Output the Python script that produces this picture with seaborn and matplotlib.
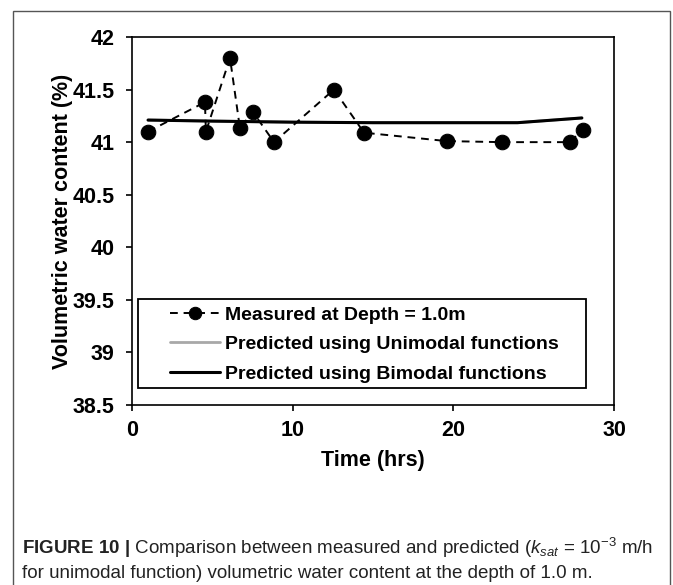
import matplotlib
matplotlib.use("Agg")
import matplotlib.pyplot as plt
from matplotlib.patches import Rectangle
import seaborn as sns
import pandas as pd

sns.set_theme(style="white")
plt.rcParams['font.family'] = ['Liberation Sans', 'DejaVu Sans']
plt.rcParams['mathtext.fontset'] = 'custom'
plt.rcParams['mathtext.rm'] = 'Liberation Sans'
plt.rcParams['mathtext.it'] = 'Liberation Sans:italic'
plt.rcParams['mathtext.bf'] = 'Liberation Sans:bold'

# ---- data ----
measured_time = [1.0, 4.54, 4.6, 6.1, 6.72, 7.51, 8.84, 12.57, 14.44, 19.58, 23.0, 27.26, 28.04]
measured_vwc = [41.10, 41.38, 41.10, 41.80, 41.13, 41.29, 41.00, 41.50, 41.09, 41.01, 41.00, 41.00, 41.12]
pred_time = [1.0, 5.0, 10.0, 15.0, 20.0, 24.0, 28.0]
unimodal_vwc = [41.21, 41.20, 41.19, 41.185, 41.185, 41.185, 41.23]
bimodal_vwc = [41.21, 41.20, 41.19, 41.185, 41.185, 41.185, 41.23]
x_ticks = [0, 10, 20, 30]
y_ticks = [38.5, 39, 39.5, 40, 40.5, 41, 41.5, 42]
y_tick_labels = ["38.5", "39", "39.5", "40", "40.5", "41", "41.5", "42"]
labels = ["Measured at Depth = 1.0m",
          "Predicted using Unimodal functions",
          "Predicted using Bimodal functions"]

fig = plt.figure(figsize=(6.73, 5.85), dpi=100)
ax = fig.add_axes([132/673, 1-405/585, 482/673, 368/585])

df_m = pd.DataFrame({"t": measured_time, "v": measured_vwc})
df_u = pd.DataFrame({"t": pred_time, "v": unimodal_vwc})
df_b = pd.DataFrame({"t": pred_time, "v": bimodal_vwc})

sns.lineplot(data=df_u, x="t", y="v", ax=ax, color="#a8a8a8", linewidth=2.0,
             sort=False, label=labels[1], zorder=2)
sns.lineplot(data=df_b, x="t", y="v", ax=ax, color="black", linewidth=2.2,
             sort=False, label=labels[2], zorder=3)
sns.lineplot(data=df_m, x="t", y="v", ax=ax, color="black", linewidth=1.4,
             linestyle=(0, (4, 3)), marker="o", markersize=10.5,
             markeredgecolor="black", markerfacecolor="black",
             sort=False, label=labels[0], zorder=4)

ax.set_xlim(0, 30)
ax.set_ylim(38.5, 42)
ax.set_xticks(x_ticks)
ax.set_yticks(y_ticks)
ax.set_yticklabels(y_tick_labels)
ax.tick_params(axis="both", which="major", direction="out", length=4.5, width=1.2,
               color="black", labelsize=15.5, labelcolor="black",
               left=True, bottom=True)
ax.tick_params(axis="y", pad=8)
ax.tick_params(axis="x", pad=6)
for lab in ax.get_xticklabels() + ax.get_yticklabels():
    lab.set_fontweight("bold")
for s in ax.spines.values():
    s.set_visible(True)
    s.set_color("black")
    s.set_linewidth(1.2)

ax.set_xlabel("Time (hrs)", fontsize=15.5, fontweight="bold", color="black", labelpad=7)
ax.set_ylabel("Volumetric water content (%)", fontsize=15.5, fontweight="bold",
              color="black", labelpad=0)

# legend
handles, labs = ax.get_legend_handles_labels()
order = [labs.index(l) for l in labels]
leg = ax.legend([handles[i] for i in order], [labs[i] for i in order],
                loc="upper left", bbox_to_anchor=(38/482, 1-(306-37)/368),
                frameon=False, fontsize=14, handlelength=2.57,
                handletextpad=0.26, labelspacing=0.62, borderaxespad=0,
                borderpad=0, markerscale=0.85)
for t in leg.get_texts():
    t.set_fontweight("bold")
    t.set_color("black")
ax.add_patch(Rectangle(((138-132)/482, (405-388)/368), (586-138)/482, (388-299)/368,
                       transform=ax.transAxes, fill=False, edgecolor="black",
                       linewidth=1.3, zorder=5))

# outer frame
fig.add_artist(Rectangle((13/673, -0.01), (670-13)/673, 1-11/585+0.01,
                         transform=fig.transFigure, fill=False,
                         edgecolor="#555555", linewidth=1.0))

# caption
cap1 = (r"$\mathbf{FIGURE\ 10\ |}$ Comparison between measured and predicted "
        r"($k_{sat}$ = 10$^{-3}$ m/h")
cap2 = "for unimodal function) volumetric water content at the depth of 1.0 m."
fig.text(22/673, 1-548/585, cap1, fontsize=13.5, color="#222222", va="center", ha="left")
fig.text(22/673, 1-573/585, cap2, fontsize=13.5, color="#222222", va="center", ha="left")

fig.savefig("out.png", dpi=100)
